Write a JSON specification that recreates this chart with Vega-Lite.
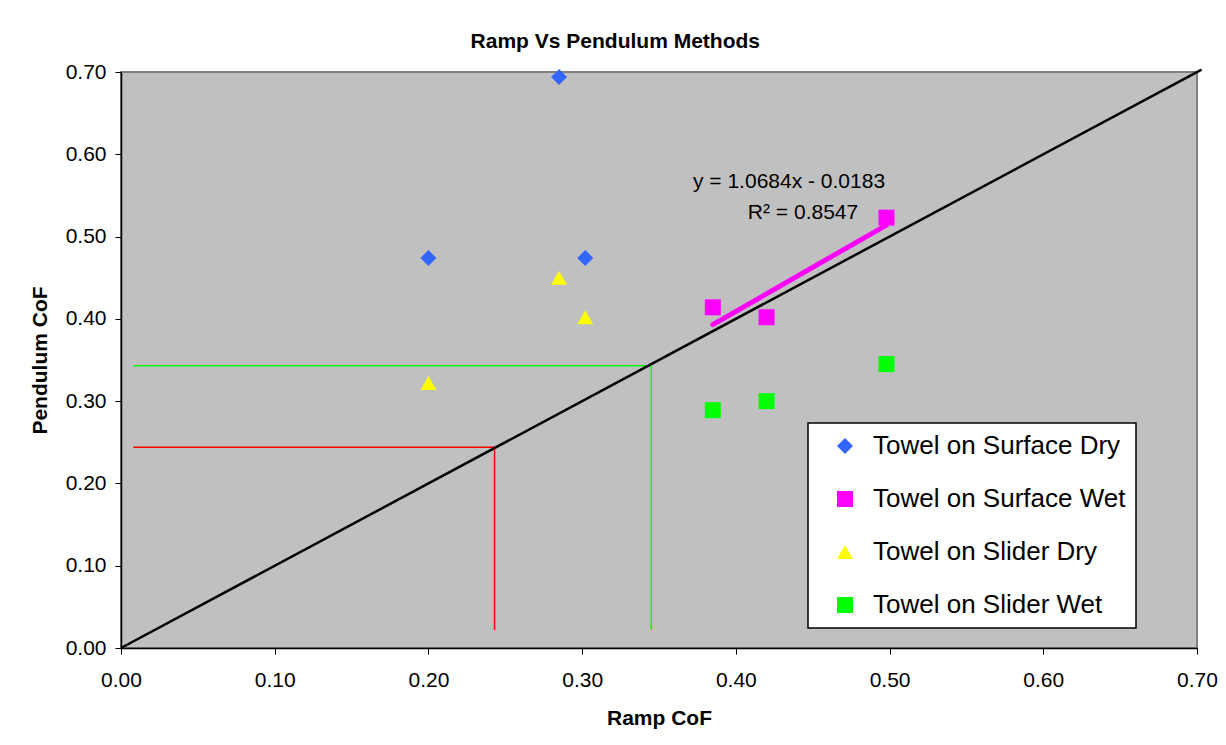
{
  "$schema": "https://vega.github.io/schema/vega-lite/v6.json",
  "width": 1076,
  "height": 576,
  "autosize": {"type": "none"},
  "padding": {"left": 121, "top": 72, "right": 29, "bottom": 97},
  "background": "white",
  "title": {
    "text": "Ramp Vs Pendulum Methods",
    "font": "Liberation Sans",
    "fontSize": 21,
    "fontWeight": "bold",
    "color": "black",
    "anchor": "middle",
    "frame": "bounds",
    "offset": 9,
    "dx": -8
  },
  "config": {
    "font": "Liberation Sans",
    "view": {"fill": "#C0C0C0", "stroke": "#808080", "strokeWidth": 2},
    "axis": {
      "grid": false,
      "labelFlush": false,
      "domainColor": "black",
      "domainWidth": 1.5,
      "tickColor": "black",
      "tickSize": 6,
      "labelFont": "Liberation Sans",
      "labelFontSize": 21,
      "labelColor": "black",
      "titleFont": "Liberation Sans",
      "titleFontSize": 21,
      "titleFontWeight": "bold",
      "titleColor": "black"
    },
    "legend": {
      "orient": "none",
      "legendX": 687,
      "legendY": 351,
      "fillColor": "white",
      "strokeColor": "black",
      "strokeWidth": 1.5,
      "padding": 10,
      "rowPadding": 27,
      "symbolOffset": 14,
      "labelOffset": 15,
      "symbolSize": 256,
      "labelFont": "Liberation Sans",
      "labelFontSize": 26,
      "labelColor": "black",
      "labelLimit": 400,
      "symbolStrokeWidth": 0,
      "symbolOpacity": 1
    }
  },
  "datasets": {
    "points": [
      {"series": "Towel on Surface Dry", "ramp": 0.200, "pendulum": 0.474},
      {"series": "Towel on Surface Dry", "ramp": 0.285, "pendulum": 0.694},
      {"series": "Towel on Surface Dry", "ramp": 0.302, "pendulum": 0.474},
      {"series": "Towel on Surface Wet", "ramp": 0.385, "pendulum": 0.414},
      {"series": "Towel on Surface Wet", "ramp": 0.420, "pendulum": 0.402},
      {"series": "Towel on Surface Wet", "ramp": 0.498, "pendulum": 0.523},
      {"series": "Towel on Slider Dry", "ramp": 0.200, "pendulum": 0.322},
      {"series": "Towel on Slider Dry", "ramp": 0.285, "pendulum": 0.450},
      {"series": "Towel on Slider Dry", "ramp": 0.302, "pendulum": 0.402},
      {"series": "Towel on Slider Wet", "ramp": 0.385, "pendulum": 0.289},
      {"series": "Towel on Slider Wet", "ramp": 0.420, "pendulum": 0.300},
      {"series": "Towel on Slider Wet", "ramp": 0.498, "pendulum": 0.345}
    ],
    "diagonal": [
      {"x": 0, "y": 0},
      {"x": 0.703, "y": 0.703}
    ],
    "redGuide": [
      {"order": 1, "x": 0.008, "y": 0.244},
      {"order": 2, "x": 0.243, "y": 0.244},
      {"order": 3, "x": 0.243, "y": 0.022}
    ],
    "greenGuide": [
      {"order": 1, "x": 0.008, "y": 0.343},
      {"order": 2, "x": 0.345, "y": 0.343},
      {"order": 3, "x": 0.345, "y": 0.022}
    ],
    "trend": [
      {"x": 0.385, "y": 0.393},
      {"x": 0.498, "y": 0.514}
    ],
    "notes": [
      {"x": 0.4346, "y": 0.566, "label": "y = 1.0684x - 0.0183"},
      {"x": 0.4437, "y": 0.5286, "label": "R² = 0.8547"}
    ]
  },
  "encoding": {
    "x": {
      "field": "x",
      "type": "quantitative",
      "title": "Ramp CoF",
      "scale": {"domain": [0, 0.7], "nice": false, "zero": false},
      "axis": {"values": [0, 0.1, 0.2, 0.3, 0.4, 0.5, 0.6, 0.7], "format": ".2f", "labelPadding": 15, "titlePadding": 17}
    },
    "y": {
      "field": "y",
      "type": "quantitative",
      "title": "Pendulum CoF",
      "scale": {"domain": [0, 0.7], "nice": false, "zero": false},
      "axis": {"values": [0, 0.1, 0.2, 0.3, 0.4, 0.5, 0.6, 0.7], "format": ".2f", "labelPadding": 9, "titlePadding": 15}
    }
  },
  "layer": [
    {
      "data": {"name": "redGuide"},
      "mark": {"type": "line", "color": "#FF0000", "strokeWidth": 1.5},
      "encoding": {"order": {"field": "order", "type": "quantitative"}}
    },
    {
      "data": {"name": "greenGuide"},
      "mark": {"type": "line", "color": "#00FF00", "strokeWidth": 1.5},
      "encoding": {"order": {"field": "order", "type": "quantitative"}}
    },
    {
      "data": {"name": "diagonal"},
      "mark": {"type": "line", "color": "black", "strokeWidth": 2.5},
      "encoding": {}
    },
    {
      "data": {"name": "trend"},
      "mark": {"type": "line", "color": "#FF00FF", "strokeWidth": 5, "strokeCap": "round"},
      "encoding": {}
    },
    {
      "data": {"name": "points"},
      "mark": {"type": "point", "filled": true, "opacity": 1, "strokeWidth": 0},
      "encoding": {
        "x": {"field": "ramp", "type": "quantitative"},
        "y": {"field": "pendulum", "type": "quantitative"},
        "color": {
          "field": "series",
          "type": "nominal",
          "title": null,
          "scale": {
            "domain": ["Towel on Surface Dry", "Towel on Surface Wet", "Towel on Slider Dry", "Towel on Slider Wet"],
            "range": ["#3366FF", "#FF00FF", "#FFFF00", "#00FF00"]
          },
          "legend": {"labelLimit": 400}
        },
        "shape": {
          "field": "series",
          "type": "nominal",
          "title": null,
          "scale": {
            "domain": ["Towel on Surface Dry", "Towel on Surface Wet", "Towel on Slider Dry", "Towel on Slider Wet"],
            "range": ["diamond", "square", "triangle-up", "square"]
          },
          "legend": {"labelLimit": 400}
        },
        "size": {
          "field": "series",
          "type": "nominal",
          "title": null,
          "legend": null,
          "scale": {
            "domain": ["Towel on Surface Dry", "Towel on Surface Wet", "Towel on Slider Dry", "Towel on Slider Wet"],
            "range": [256, 256, 256, 169]
          }
        }
      }
    },
    {
      "data": {"name": "notes"},
      "mark": {"type": "text", "font": "Liberation Sans", "fontSize": 21, "color": "black", "align": "center", "baseline": "middle"},
      "encoding": {"text": {"field": "label", "type": "nominal"}}
    }
  ]
}
